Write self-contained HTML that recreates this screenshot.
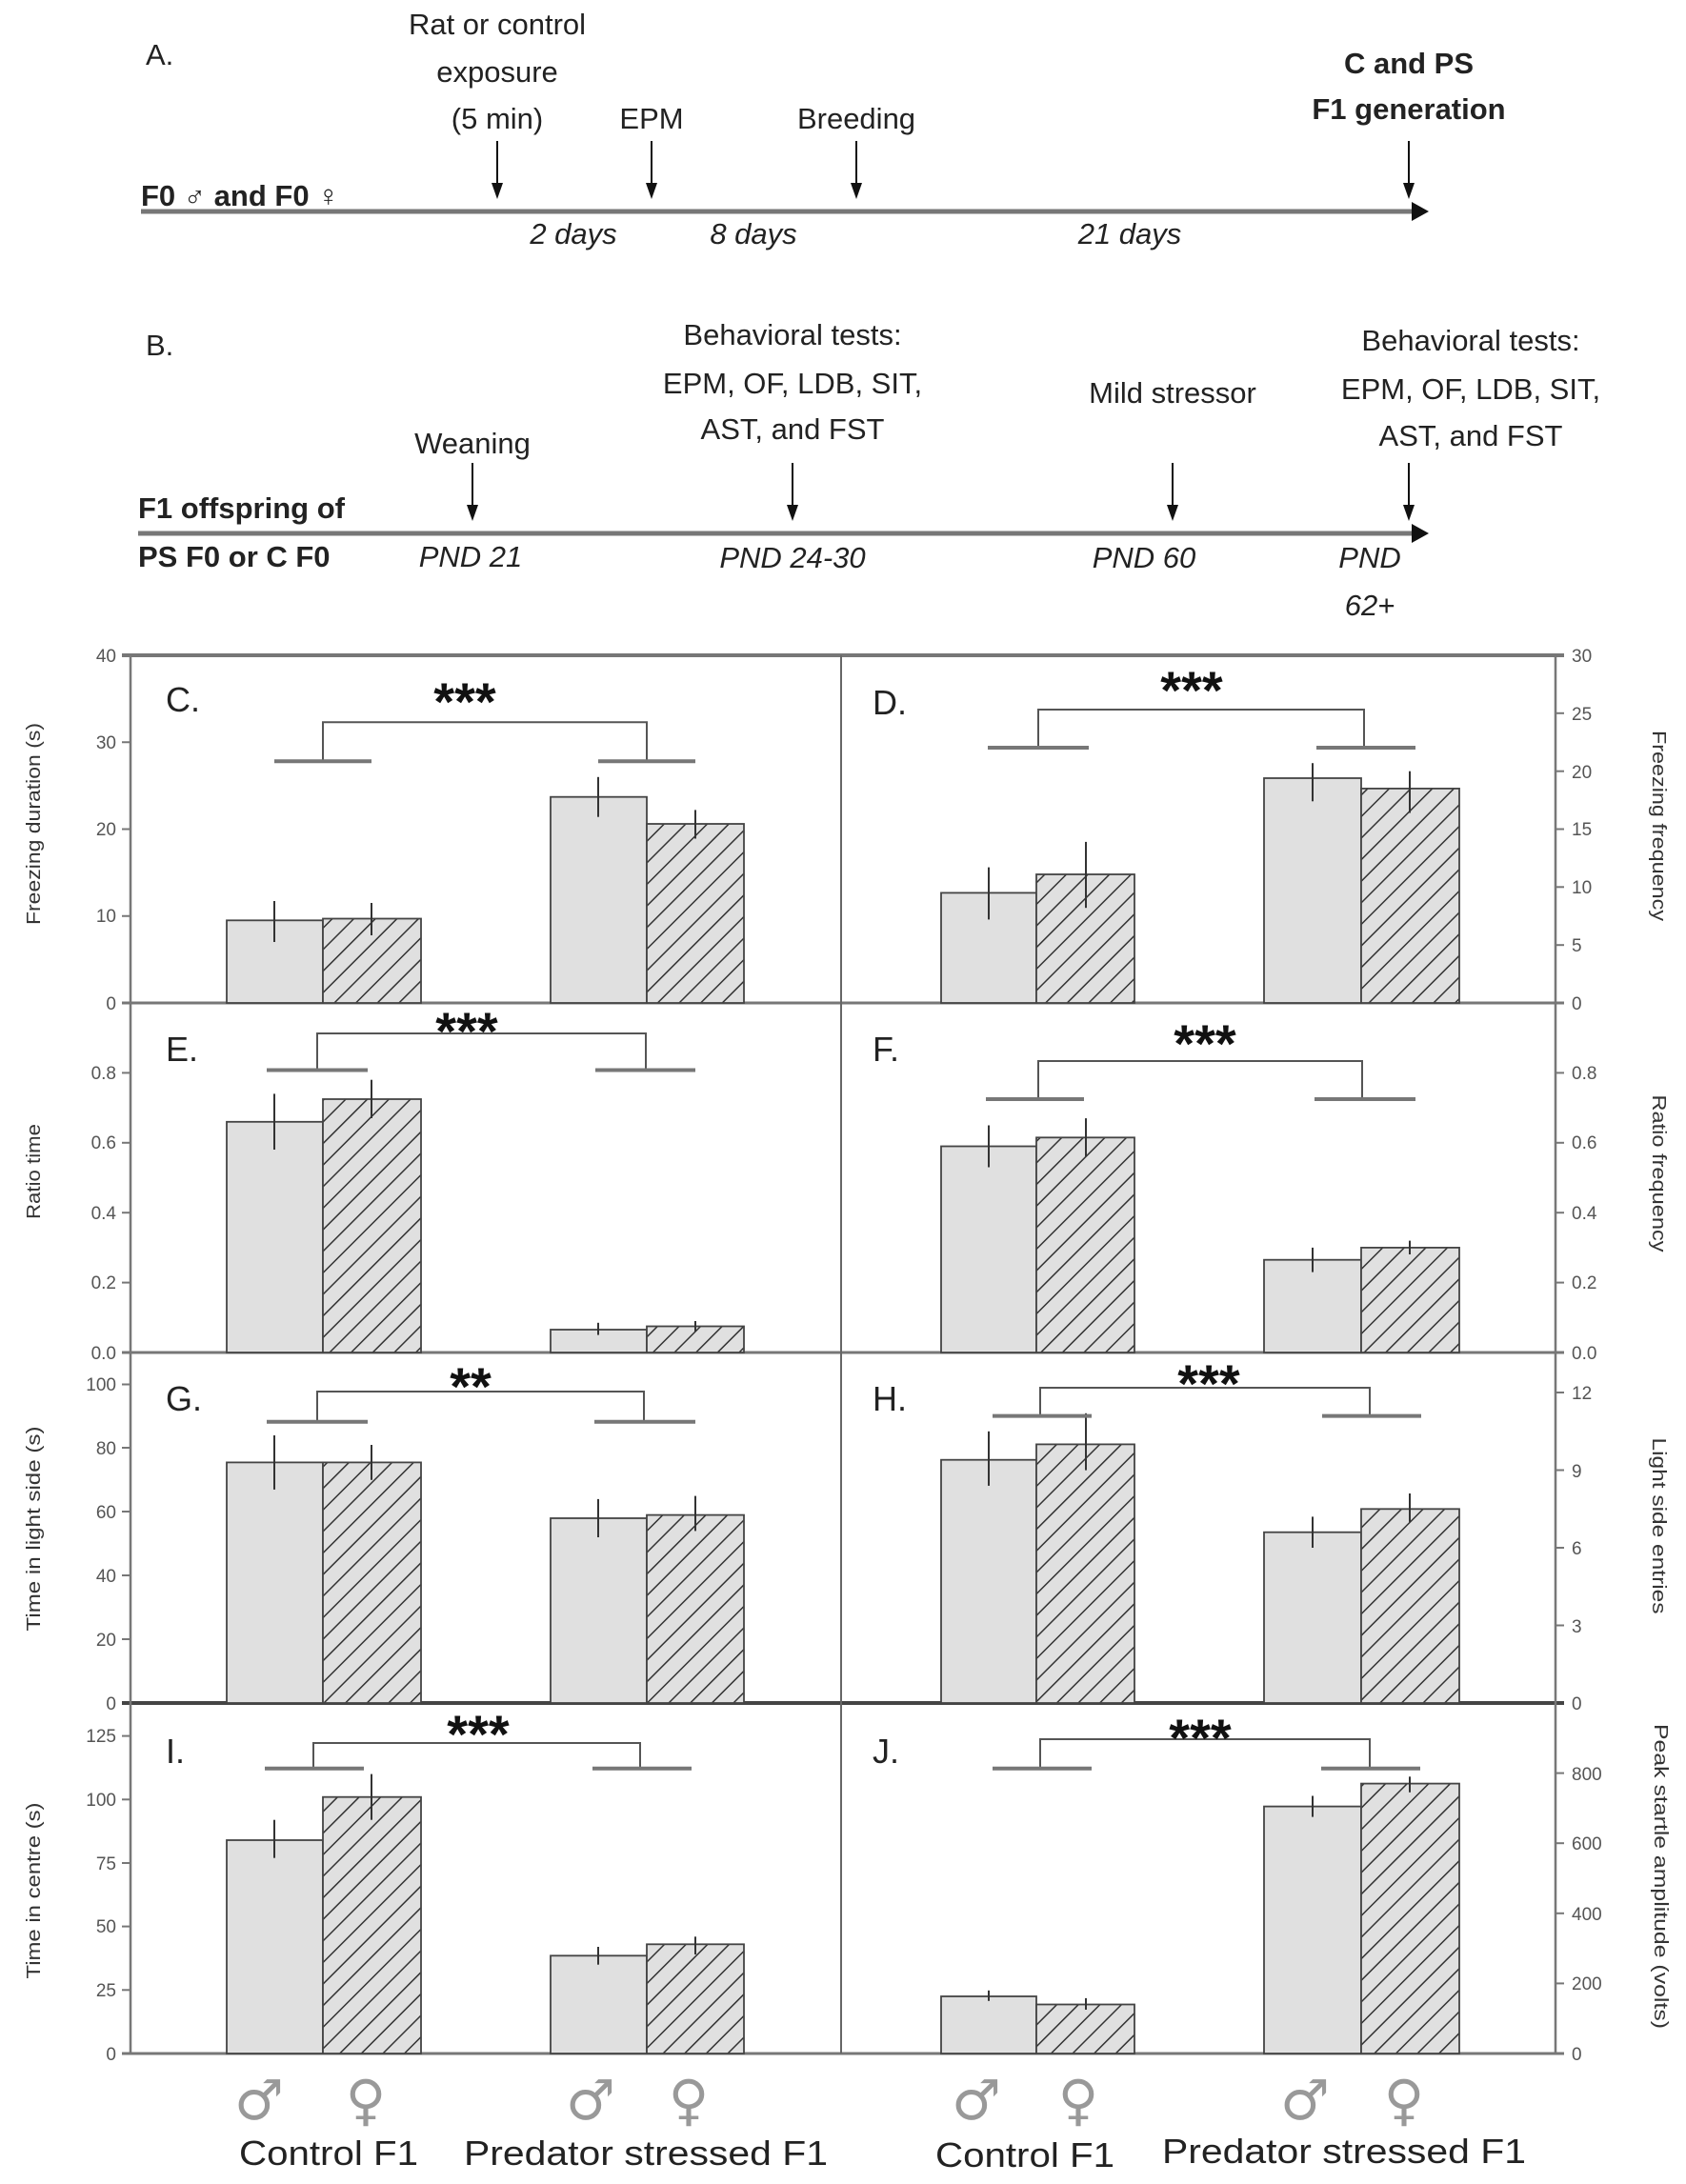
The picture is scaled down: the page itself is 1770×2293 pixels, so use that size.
<!DOCTYPE html>
<html><head><meta charset="utf-8"><style>
html,body{margin:0;padding:0;background:#fff;}
svg{display:block;}
.t{font-family:"Liberation Sans",sans-serif;font-size:31px;fill:#222;}
.b{font-weight:bold;}
.i{font-style:italic;}
.tk{font-family:"Liberation Sans",sans-serif;font-size:19px;fill:#555;}
.yt{font-family:"Liberation Sans",sans-serif;font-size:20px;fill:#333;}
.pl{font-family:"Liberation Sans",sans-serif;font-size:36px;fill:#222;}
.st{font-family:"Liberation Sans",sans-serif;font-size:56px;font-weight:bold;fill:#111;}
.sx{font-family:"DejaVu Sans",sans-serif;font-size:58px;fill:#999;}
.xl{font-family:"Liberation Sans",sans-serif;font-size:36px;fill:#222;}
.bm{fill:#e0e0e0;stroke:#444;stroke-width:1.8;}
.bf{fill:url(#h);stroke:#444;stroke-width:1.8;}
.e{stroke:#333;stroke-width:2;}
.br{stroke:#555;stroke-width:2;fill:none;}
.ar{stroke:#777;stroke-width:5;}
.ax{stroke:#777;stroke-width:2.5;}
.tkl{stroke:#777;stroke-width:2;}
.dl{stroke:#111;stroke-width:2;}
</style></head><body>
<svg width="1770" height="2293" viewBox="0 0 1770 2293" xmlns="http://www.w3.org/2000/svg">
<defs>
<pattern id="h" patternUnits="userSpaceOnUse" width="16" height="16" patternTransform="rotate(45)">
<rect width="16" height="16" fill="#e0e0e0"/>
<line x1="0" y1="0" x2="0" y2="16" stroke="#333" stroke-width="3"/>
</pattern>
</defs>

<!-- A -->
<text class="t" x="153" y="68">A.</text>
<text class="t" x="522" y="36" text-anchor="middle">Rat or control</text>
<text class="t" x="522" y="86" text-anchor="middle">exposure</text>
<text class="t" x="522" y="135" text-anchor="middle">(5 min)</text>
<text class="t" x="684" y="135" text-anchor="middle">EPM</text>
<text class="t" x="899" y="135" text-anchor="middle">Breeding</text>
<text class="t b" x="1479" y="77" text-anchor="middle">C and PS</text>
<text class="t b" x="1479" y="125" text-anchor="middle">F1 generation</text>
<text class="t b" x="148" y="216">F0 ♂ and F0 ♀</text>
<line x1="148" y1="222" x2="1485" y2="222" class="ar"/>
<path d="M1482,212 L1500,222 L1482,232 Z" fill="#111"/>
<g class="dl">
<line x1="522" y1="148" x2="522" y2="195"/><line x1="684" y1="148" x2="684" y2="195"/><line x1="899" y1="148" x2="899" y2="195"/><line x1="1479" y1="148" x2="1479" y2="195"/>
</g>
<g fill="#111">
<path d="M516,192 L528,192 L522,209 Z"/><path d="M678,192 L690,192 L684,209 Z"/><path d="M893,192 L905,192 L899,209 Z"/><path d="M1473,192 L1485,192 L1479,209 Z"/>
</g>
<text class="t i" x="602" y="256" text-anchor="middle">2 days</text>
<text class="t i" x="791" y="256" text-anchor="middle">8 days</text>
<text class="t i" x="1186" y="256" text-anchor="middle">21 days</text>

<!-- B -->
<text class="t" x="153" y="373">B.</text>
<text class="t" x="832" y="362" text-anchor="middle">Behavioral tests:</text>
<text class="t" x="832" y="413" text-anchor="middle">EPM, OF, LDB, SIT,</text>
<text class="t" x="832" y="461" text-anchor="middle">AST, and FST</text>
<text class="t" x="496" y="476" text-anchor="middle">Weaning</text>
<text class="t" x="1231" y="423" text-anchor="middle">Mild stressor</text>
<text class="t" x="1544" y="368" text-anchor="middle">Behavioral tests:</text>
<text class="t" x="1544" y="419" text-anchor="middle">EPM, OF, LDB, SIT,</text>
<text class="t" x="1544" y="468" text-anchor="middle">AST, and FST</text>
<text class="t b" x="145" y="544">F1 offspring of</text>
<text class="t b" x="145" y="595">PS F0 or C F0</text>
<line x1="145" y1="560" x2="1485" y2="560" class="ar"/>
<path d="M1482,550 L1500,560 L1482,570 Z" fill="#111"/>
<g class="dl">
<line x1="496" y1="486" x2="496" y2="533"/><line x1="832" y1="486" x2="832" y2="533"/><line x1="1231" y1="486" x2="1231" y2="533"/><line x1="1479" y1="486" x2="1479" y2="533"/>
</g>
<g fill="#111">
<path d="M490,530 L502,530 L496,547 Z"/><path d="M826,530 L838,530 L832,547 Z"/><path d="M1225,530 L1237,530 L1231,547 Z"/><path d="M1473,530 L1485,530 L1479,547 Z"/>
</g>
<text class="t i" x="494" y="595" text-anchor="middle">PND 21</text>
<text class="t i" x="832" y="596" text-anchor="middle">PND 24-30</text>
<text class="t i" x="1201" y="596" text-anchor="middle">PND 60</text>
<text class="t i" x="1438" y="596" text-anchor="middle">PND</text>
<text class="t i" x="1438" y="646" text-anchor="middle">62+</text>

<!-- frame -->
<line x1="128" y1="688" x2="1642" y2="688" stroke="#777" stroke-width="4"/>
<line x1="128" y1="1053" x2="1642" y2="1053" stroke="#777" stroke-width="3"/>
<line x1="128" y1="1420" x2="1642" y2="1420" stroke="#777" stroke-width="3"/>
<line x1="128" y1="1788" x2="1642" y2="1788" stroke="#444" stroke-width="4"/>
<line x1="128" y1="2156" x2="1642" y2="2156" stroke="#777" stroke-width="3"/>
<line x1="137" y1="688" x2="137" y2="2156" class="ax"/>
<line x1="883" y1="688" x2="883" y2="2156" stroke="#666" stroke-width="2"/>
<line x1="1633" y1="688" x2="1633" y2="2156" class="ax"/>

<!-- Left ticks -->
<g class="tkl">
<line x1="128" x2="137" y1="1053" y2="1053"/><line x1="128" x2="137" y1="961.75" y2="961.75"/><line x1="128" x2="137" y1="870.5" y2="870.5"/><line x1="128" x2="137" y1="779.25" y2="779.25"/><line x1="128" x2="137" y1="688" y2="688"/>
<line x1="128" x2="137" y1="1346.6" y2="1346.6"/><line x1="128" x2="137" y1="1273.2" y2="1273.2"/><line x1="128" x2="137" y1="1199.8" y2="1199.8"/><line x1="128" x2="137" y1="1126.4" y2="1126.4"/>
<line x1="128" x2="137" y1="1721" y2="1721"/><line x1="128" x2="137" y1="1654" y2="1654"/><line x1="128" x2="137" y1="1587" y2="1587"/><line x1="128" x2="137" y1="1520" y2="1520"/><line x1="128" x2="137" y1="1453.5" y2="1453.5"/>
<line x1="128" x2="137" y1="2089.3" y2="2089.3"/><line x1="128" x2="137" y1="2022.6" y2="2022.6"/><line x1="128" x2="137" y1="1956" y2="1956"/><line x1="128" x2="137" y1="1889.3" y2="1889.3"/><line x1="128" x2="137" y1="1822.6" y2="1822.6"/>
</g>
<g class="tk" text-anchor="end">
<text x="122" y="1060">0</text><text x="122" y="968">10</text><text x="122" y="877">20</text><text x="122" y="786">30</text><text x="122" y="695">40</text>
<text x="122" y="1427">0.0</text><text x="122" y="1353">0.2</text><text x="122" y="1280">0.4</text><text x="122" y="1206">0.6</text><text x="122" y="1133">0.8</text>
<text x="122" y="1795">0</text><text x="122" y="1728">20</text><text x="122" y="1661">40</text><text x="122" y="1594">60</text><text x="122" y="1527">80</text><text x="122" y="1460">100</text>
<text x="122" y="2163">0</text><text x="122" y="2096">25</text><text x="122" y="2029">50</text><text x="122" y="1963">75</text><text x="122" y="1896">100</text><text x="122" y="1829">125</text>
</g>
<!-- Right ticks -->
<g class="tkl">
<line x1="1633" x2="1642" y1="992.2" y2="992.2"/><line x1="1633" x2="1642" y1="931.3" y2="931.3"/><line x1="1633" x2="1642" y1="870.5" y2="870.5"/><line x1="1633" x2="1642" y1="809.7" y2="809.7"/><line x1="1633" x2="1642" y1="748.8" y2="748.8"/>
<line x1="1633" x2="1642" y1="1346.6" y2="1346.6"/><line x1="1633" x2="1642" y1="1273.2" y2="1273.2"/><line x1="1633" x2="1642" y1="1199.8" y2="1199.8"/><line x1="1633" x2="1642" y1="1126.4" y2="1126.4"/>
<line x1="1633" x2="1642" y1="1706.5" y2="1706.5"/><line x1="1633" x2="1642" y1="1625" y2="1625"/><line x1="1633" x2="1642" y1="1543.5" y2="1543.5"/><line x1="1633" x2="1642" y1="1462" y2="1462"/>
<line x1="1633" x2="1642" y1="2082.4" y2="2082.4"/><line x1="1633" x2="1642" y1="2008.8" y2="2008.8"/><line x1="1633" x2="1642" y1="1935.2" y2="1935.2"/><line x1="1633" x2="1642" y1="1861.6" y2="1861.6"/>
</g>
<g class="tk">
<text x="1650" y="1060">0</text><text x="1650" y="999">5</text><text x="1650" y="938">10</text><text x="1650" y="877">15</text><text x="1650" y="817">20</text><text x="1650" y="756">25</text><text x="1650" y="695">30</text>
<text x="1650" y="1427">0.0</text><text x="1650" y="1353">0.2</text><text x="1650" y="1280">0.4</text><text x="1650" y="1206">0.6</text><text x="1650" y="1133">0.8</text>
<text x="1650" y="1795">0</text><text x="1650" y="1714">3</text><text x="1650" y="1632">6</text><text x="1650" y="1551">9</text><text x="1650" y="1469">12</text>
<text x="1650" y="2163">0</text><text x="1650" y="2089">200</text><text x="1650" y="2016">400</text><text x="1650" y="1942">600</text><text x="1650" y="1869">800</text>
</g>

<!-- Y titles -->
<text class="yt" transform="translate(42,865) rotate(-90)" text-anchor="middle" textLength="212" lengthAdjust="spacingAndGlyphs">Freezing duration (s)</text>
<text class="yt" transform="translate(42,1230) rotate(-90)" text-anchor="middle" textLength="100" lengthAdjust="spacingAndGlyphs">Ratio time</text>
<text class="yt" transform="translate(42,1605) rotate(-90)" text-anchor="middle" textLength="215" lengthAdjust="spacingAndGlyphs">Time in light side (s)</text>
<text class="yt" transform="translate(42,1985) rotate(-90)" text-anchor="middle" textLength="185" lengthAdjust="spacingAndGlyphs">Time in centre (s)</text>
<text class="yt" transform="translate(1735,867) rotate(90)" text-anchor="middle" textLength="200" lengthAdjust="spacingAndGlyphs">Freezing frequency</text>
<text class="yt" transform="translate(1735,1232) rotate(90)" text-anchor="middle" textLength="165" lengthAdjust="spacingAndGlyphs">Ratio frequency</text>
<text class="yt" transform="translate(1735,1602) rotate(90)" text-anchor="middle" textLength="185" lengthAdjust="spacingAndGlyphs">Light side entries</text>
<text class="yt" transform="translate(1737,1970) rotate(90)" text-anchor="middle" textLength="320" lengthAdjust="spacingAndGlyphs">Peak startle amplitude (volts)</text>

<!-- Panel labels -->
<text class="pl" x="174" y="747">C.</text>
<text class="pl" x="916" y="750">D.</text>
<text class="pl" x="174" y="1114">E.</text>
<text class="pl" x="916" y="1114">F.</text>
<text class="pl" x="174" y="1481">G.</text>
<text class="pl" x="916" y="1481">H.</text>
<text class="pl" x="174" y="1851">I.</text>
<text class="pl" x="916" y="1851">J.</text>

<!-- C -->
<rect class="bm" x="238" y="966.3" width="101" height="86.7"/><rect class="bf" x="339" y="964.5" width="103" height="88.5"/>
<rect class="bm" x="578" y="836.7" width="101" height="216.3"/><rect class="bf" x="679" y="865" width="102" height="188"/>
<line class="e" x1="288" x2="288" y1="989" y2="946"/><line class="e" x1="390" x2="390" y1="982" y2="948"/>
<line class="e" x1="628" x2="628" y1="857.7" y2="815.8"/><line class="e" x1="730" x2="730" y1="880.5" y2="850.4"/>
<path class="br" d="M339,799.3 V758.3 H679 V799.3"/><line x1="288" x2="390" y1="799.3" y2="799.3" stroke="#777" stroke-width="4"/><line x1="628" x2="730" y1="799.3" y2="799.3" stroke="#777" stroke-width="4"/>
<text class="st" x="488" y="756" text-anchor="middle">***</text>
<!-- D -->
<rect class="bm" x="988" y="937.4" width="100" height="115.6"/><rect class="bf" x="1088" y="918" width="103" height="135"/>
<rect class="bm" x="1327" y="817" width="102" height="236"/><rect class="bf" x="1429" y="827.9" width="103" height="225.1"/>
<line class="e" x1="1038" x2="1038" y1="965.4" y2="910.6"/><line class="e" x1="1140" x2="1140" y1="953.2" y2="883.9"/>
<line class="e" x1="1378" x2="1378" y1="841.3" y2="801.2"/><line class="e" x1="1480" x2="1480" y1="853.5" y2="809.7"/>
<path class="br" d="M1090,785 V745 H1432 V785"/><line x1="1037" x2="1143" y1="785" y2="785" stroke="#777" stroke-width="4"/><line x1="1382" x2="1486" y1="785" y2="785" stroke="#777" stroke-width="4"/>
<text class="st" x="1251" y="744" text-anchor="middle">***</text>
<!-- E -->
<rect class="bm" x="238" y="1177.8" width="101" height="242.2"/><rect class="bf" x="339" y="1154" width="103" height="266"/>
<rect class="bm" x="578" y="1396" width="101" height="24"/><rect class="bf" x="679" y="1392.5" width="102" height="27.5"/>
<line class="e" x1="288" x2="288" y1="1207" y2="1148.4"/><line class="e" x1="390" x2="390" y1="1174" y2="1133.7"/>
<line class="e" x1="628" x2="628" y1="1401.6" y2="1388.8"/><line class="e" x1="730" x2="730" y1="1398" y2="1387"/>
<path class="br" d="M333,1123.5 V1085 H678 V1123.5"/><line x1="280" x2="386" y1="1123.5" y2="1123.5" stroke="#777" stroke-width="4"/><line x1="625" x2="730" y1="1123.5" y2="1123.5" stroke="#777" stroke-width="4"/>
<text class="st" x="490" y="1102" text-anchor="middle">***</text>
<!-- F -->
<rect class="bm" x="988" y="1203.5" width="100" height="216.5"/><rect class="bf" x="1088" y="1194.3" width="103" height="225.7"/>
<rect class="bm" x="1327" y="1322.7" width="102" height="97.3"/><rect class="bf" x="1429" y="1309.9" width="103" height="110.1"/>
<line class="e" x1="1038" x2="1038" y1="1225.5" y2="1181.5"/><line class="e" x1="1140" x2="1140" y1="1214.5" y2="1174.1"/>
<line class="e" x1="1378" x2="1378" y1="1335.6" y2="1309.9"/><line class="e" x1="1480" x2="1480" y1="1317" y2="1302.6"/>
<path class="br" d="M1090,1154 V1114 H1430 V1154"/><line x1="1035" x2="1138" y1="1154" y2="1154" stroke="#777" stroke-width="4"/><line x1="1380" x2="1486" y1="1154" y2="1154" stroke="#777" stroke-width="4"/>
<text class="st" x="1265" y="1115" text-anchor="middle">***</text>
<!-- G -->
<rect class="bm" x="238" y="1535.4" width="101" height="252.6"/><rect class="bf" x="339" y="1535.4" width="103" height="252.6"/>
<rect class="bm" x="578" y="1594" width="101" height="194"/><rect class="bf" x="679" y="1590.6" width="102" height="197.4"/>
<line class="e" x1="288" x2="288" y1="1563.9" y2="1507"/><line class="e" x1="390" x2="390" y1="1553.8" y2="1517"/>
<line class="e" x1="628" x2="628" y1="1614" y2="1573.9"/><line class="e" x1="730" x2="730" y1="1607.4" y2="1570.6"/>
<path class="br" d="M333,1492.8 V1461 H676 V1492.8"/><line x1="280" x2="386" y1="1492.8" y2="1492.8" stroke="#777" stroke-width="4"/><line x1="624" x2="730" y1="1492.8" y2="1492.8" stroke="#777" stroke-width="4"/>
<text class="st" x="494" y="1475" text-anchor="middle">**</text>
<!-- H -->
<rect class="bm" x="988" y="1532.7" width="100" height="255.3"/><rect class="bf" x="1088" y="1516.4" width="103" height="271.6"/>
<rect class="bm" x="1327" y="1608.7" width="102" height="179.3"/><rect class="bf" x="1429" y="1584.3" width="103" height="203.7"/>
<line class="e" x1="1038" x2="1038" y1="1559.9" y2="1502.8"/><line class="e" x1="1140" x2="1140" y1="1543.6" y2="1483.8"/>
<line class="e" x1="1378" x2="1378" y1="1625" y2="1592.4"/><line class="e" x1="1480" x2="1480" y1="1597.9" y2="1568"/>
<path class="br" d="M1092,1486.6 V1457 H1438 V1486.6"/><line x1="1042" x2="1146" y1="1486.6" y2="1486.6" stroke="#777" stroke-width="4"/><line x1="1388" x2="1492" y1="1486.6" y2="1486.6" stroke="#777" stroke-width="4"/>
<text class="st" x="1269" y="1472" text-anchor="middle">***</text>
<!-- I -->
<rect class="bm" x="238" y="1932" width="101" height="224"/><rect class="bf" x="339" y="1886.7" width="103" height="269.3"/>
<rect class="bm" x="578" y="2053.3" width="101" height="102.7"/><rect class="bf" x="679" y="2041.3" width="102" height="114.7"/>
<line class="e" x1="288" x2="288" y1="1950.7" y2="1910.7"/><line class="e" x1="390" x2="390" y1="1910.7" y2="1862.6"/>
<line class="e" x1="628" x2="628" y1="2062.7" y2="2044"/><line class="e" x1="730" x2="730" y1="2052" y2="2033.3"/>
<path class="br" d="M329,1856.7 V1830 H672 V1856.7"/><line x1="278" x2="382" y1="1856.7" y2="1856.7" stroke="#777" stroke-width="4"/><line x1="622" x2="726" y1="1856.7" y2="1856.7" stroke="#777" stroke-width="4"/>
<text class="st" x="502" y="1840" text-anchor="middle">***</text>
<!-- J -->
<rect class="bm" x="988" y="2096" width="100" height="60"/><rect class="bf" x="1088" y="2104.5" width="103" height="51.5"/>
<rect class="bm" x="1327" y="1896.6" width="102" height="259.4"/><rect class="bf" x="1429" y="1872.6" width="103" height="283.4"/>
<line class="e" x1="1038" x2="1038" y1="2100.8" y2="2089.8"/><line class="e" x1="1140" x2="1140" y1="2110" y2="2097.9"/>
<line class="e" x1="1378" x2="1378" y1="1907.6" y2="1885.5"/><line class="e" x1="1480" x2="1480" y1="1881.8" y2="1865.3"/>
<path class="br" d="M1092,1856.7 V1826 H1438 V1856.7"/><line x1="1042" x2="1146" y1="1856.7" y2="1856.7" stroke="#777" stroke-width="4"/><line x1="1387" x2="1491" y1="1856.7" y2="1856.7" stroke="#777" stroke-width="4"/>
<text class="st" x="1260" y="1844" text-anchor="middle">***</text>

<!-- x symbols -->
<g class="sx" text-anchor="middle">
<text x="272" y="2225">♂</text><text x="384" y="2225">♀</text><text x="620" y="2225">♂</text><text x="723" y="2225">♀</text>
<text x="1025" y="2225">♂</text><text x="1132" y="2225">♀</text><text x="1370" y="2225">♂</text><text x="1474" y="2225">♀</text>
</g>
<g class="xl" text-anchor="middle">
<text x="345" y="2273" textLength="188" lengthAdjust="spacingAndGlyphs">Control F1</text>
<text x="678" y="2273" textLength="382" lengthAdjust="spacingAndGlyphs">Predator stressed F1</text>
<text x="1076" y="2275" textLength="188" lengthAdjust="spacingAndGlyphs">Control F1</text>
<text x="1411" y="2271" textLength="382" lengthAdjust="spacingAndGlyphs">Predator stressed F1</text>
</g>
</svg>
</body></html>
